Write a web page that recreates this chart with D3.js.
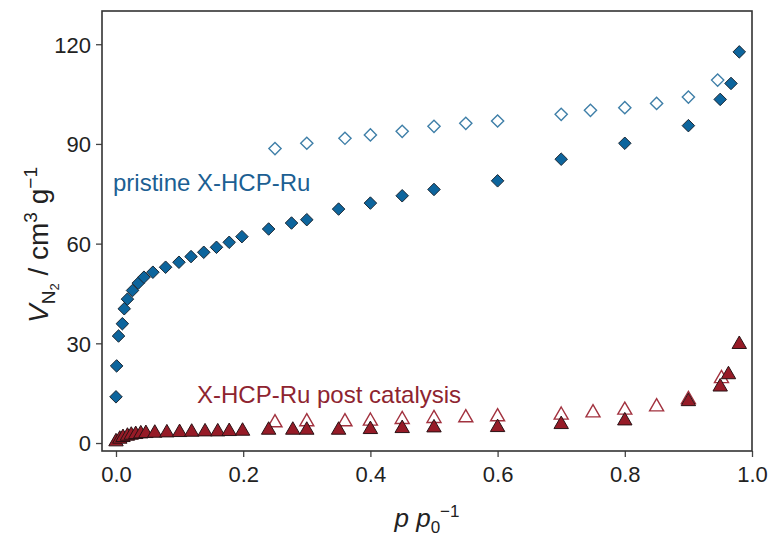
<!DOCTYPE html>
<html>
<head>
<meta charset="utf-8">
<script src="https://cdn.jsdelivr.net/npm/d3@7"></script>
<style>
body { margin: 0; background: #fff; }
text { font-family: Arial, "Liberation Sans", sans-serif; }
</style>
</head>
<body>
<svg id="chart" width="772" height="539"></svg>
<script>
// pristine X-HCP-Ru, adsorption (filled diamonds)
var pristineAdsP = [0.0, 0.001, 0.004, 0.010, 0.013, 0.018, 0.026, 0.035, 0.044, 0.058, 0.078, 0.099, 0.118, 0.138, 0.158, 0.178, 0.198, 0.24, 0.276, 0.30, 0.35, 0.40, 0.45, 0.50, 0.60, 0.70, 0.80, 0.90, 0.95, 0.967, 0.98];
var pristineAdsV = [13.9, 23.2, 32.2, 35.9, 40.4, 43.3, 45.9, 48.1, 49.9, 51.4, 52.9, 54.4, 56.1, 57.4, 58.9, 60.4, 62.1, 64.4, 66.2, 67.2, 70.4, 72.2, 74.4, 76.3, 78.9, 85.4, 90.2, 95.5, 103.4, 108.2, 117.7];
// pristine X-HCP-Ru, desorption (open diamonds)
var pristineDesP = [0.25, 0.30, 0.36, 0.40, 0.45, 0.50, 0.55, 0.60, 0.70, 0.746, 0.80, 0.85, 0.90, 0.946];
var pristineDesV = [88.6, 90.2, 91.7, 92.7, 93.8, 95.3, 96.2, 96.9, 98.9, 100.1, 100.9, 102.2, 104.1, 109.2];
// post catalysis, adsorption (filled triangles)
var postAdsP = [0.0, 0.006, 0.011, 0.018, 0.024, 0.031, 0.039, 0.047, 0.061, 0.08, 0.10, 0.119, 0.14, 0.16, 0.178, 0.199, 0.24, 0.278, 0.30, 0.35, 0.40, 0.45, 0.50, 0.60, 0.70, 0.80, 0.90, 0.95, 0.963, 0.98];
var postAdsV = [0.4, 1.2, 1.7, 2.1, 2.4, 2.6, 2.8, 2.9, 3.0, 3.1, 3.2, 3.3, 3.4, 3.4, 3.5, 3.6, 3.9, 3.9, 3.9, 3.9, 4.1, 4.4, 4.6, 4.7, 5.6, 6.7, 12.5, 16.9, 20.6, 29.7];
// post catalysis, desorption (open triangles)
var postDesP = [0.25, 0.30, 0.36, 0.40, 0.45, 0.50, 0.55, 0.60, 0.70, 0.75, 0.80, 0.85, 0.90, 0.952];
var postDesV = [6.1, 6.4, 6.4, 6.6, 7.1, 7.4, 7.6, 7.9, 8.4, 9.1, 9.9, 10.9, 13.1, 19.4];

var xTicks = [0, 0.2, 0.4, 0.6, 0.8, 1.0];
var yTicks = [0, 30, 60, 90, 120];

var svg = d3.select('#chart');
var pLeft = 102, pRight = 752, pTop = 11, pBottom = 451;

var xscale = d3.scaleLinear().domain([-0.022, 1.0]).range([pLeft, pRight]);
var yscale = d3.scaleLinear().domain([-2.4, 130]).range([pBottom, pTop]);

var xaxis = d3.axisBottom(xscale).tickValues(xTicks).tickSize(6).tickSizeOuter(0)
	.tickFormat(d3.format('.1f'));
var yaxis = d3.axisLeft(yscale).tickValues(yTicks).tickSize(6).tickSizeOuter(0);

var gx = svg.append('g')
	.attr('transform', 'translate(0,' + pBottom + ')')
	.call(xaxis);
var gy = svg.append('g')
	.attr('transform', 'translate(' + pLeft + ',0)')
	.call(yaxis);

[gx, gy].forEach(function(g) {
	g.select('.domain').remove();
	g.selectAll('line').attr('stroke', '#444').attr('stroke-width', 1.3);
	g.selectAll('text').attr('font-size', 22).attr('fill', '#222')
		.attr('font-family', 'Arial, "Liberation Sans", sans-serif');
});
gx.selectAll('text').attr('y', 10).attr('dy', '0.95em');
gy.selectAll('text').attr('x', -11).attr('dy', '0.36em');

// frame
svg.append('rect')
	.attr('x', pLeft).attr('y', pTop)
	.attr('width', pRight - pLeft).attr('height', pBottom - pTop)
	.attr('fill', 'none').attr('stroke', '#333').attr('stroke-width', 1.6);

var diamond = d3.symbol().type(d3.symbolDiamond2);
var triangle = d3.symbol().type(d3.symbolTriangle);

var drawPoints = function(px, py, shape, size, fill, stroke, sw) {
	var coords = px.map((d, i) => [d, py[i]]);
	svg.append('g').selectAll('path')
		.data(coords)
		.enter().append('path')
		.attr('transform', d => 'translate(' + xscale(d[0]) + ',' + yscale(d[1]) + ')')
		.attr('d', shape.size(size))
		.attr('fill', fill)
		.attr('stroke', stroke)
		.attr('stroke-width', sw);
}

drawPoints(pristineDesP, pristineDesV, diamond, 95, 'white', '#3f7fa8', 1.4);
drawPoints(postDesP, postDesV, triangle, 85, 'white', '#a2323f', 1.4);
drawPoints(pristineAdsP, pristineAdsV, diamond, 100, '#0d659d', '#1b2733', 1);
drawPoints(postAdsP, postAdsV, triangle, 90, '#961b27', '#2a1215', 1);

svg.append('text')
	.attr('x', 113).attr('y', 191)
	.attr('font-size', 24).attr('fill', '#1c5f93')
	.text('pristine X-HCP-Ru');

svg.append('text')
	.attr('x', 197).attr('y', 403)
	.attr('font-size', 24).attr('fill', '#8e2430')
	.text('X-HCP-Ru post catalysis');

// y label
var ylab = svg.append('text')
	.attr('transform', 'translate(48,245) rotate(-90)')
	.attr('text-anchor', 'middle')
	.attr('font-size', 28).attr('fill', '#222');
ylab.append('tspan').attr('font-style', 'italic').text('V');
ylab.append('tspan').attr('font-size', 19).attr('dy', 7).text('N');
ylab.append('tspan').attr('font-size', 13).attr('dy', 4).text('2');
ylab.append('tspan').attr('dy', -11).text(' / cm');
ylab.append('tspan').attr('font-size', 19).attr('dy', -11).text('3');
ylab.append('tspan').attr('dy', 11).text(' g');
ylab.append('tspan').attr('font-size', 19).attr('dy', -11).text('\u22121');

// x label
var xlab = svg.append('text')
	.attr('x', (pLeft + pRight) / 2).attr('y', 527)
	.attr('text-anchor', 'middle')
	.attr('font-size', 26).attr('fill', '#222');
xlab.append('tspan').attr('font-style', 'italic').text('p p');
xlab.append('tspan').attr('font-size', 17).attr('dy', 6).text('0');
xlab.append('tspan').attr('font-size', 17).attr('dy', -16).text('\u22121');
</script>
</body>
</html>
